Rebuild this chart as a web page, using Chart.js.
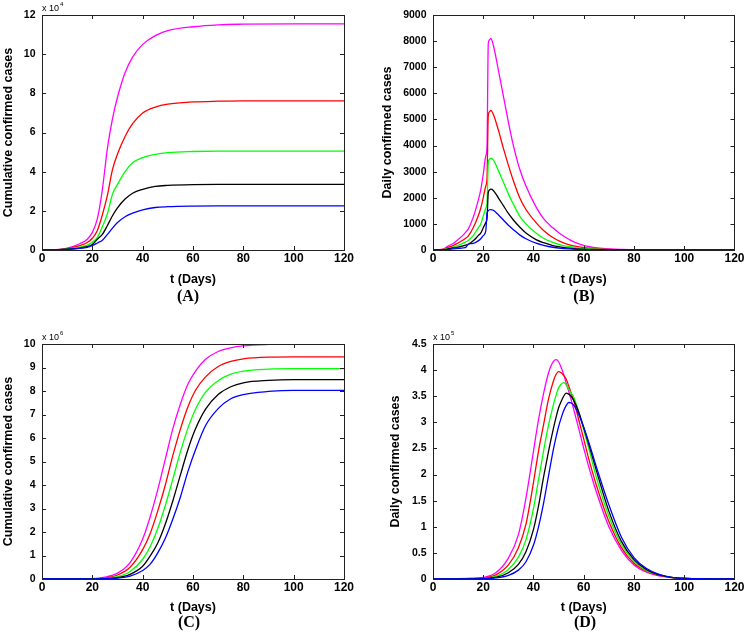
<!DOCTYPE html>
<html>
<head>
<meta charset="utf-8">
<script src="https://cdn.jsdelivr.net/npm/chart.js@4.4.0/dist/chart.umd.min.js"></script>
<style>
  body { margin: 0; background: #fff; }
  #wrap { position: relative; width: 746px; height: 638px; }
  .panel { position: absolute; }
</style>
</head>
<body>
<div id="wrap">
  <div class="panel" style="left:0;top:0"><canvas id="chartA" width="373" height="318"></canvas></div>
  <div class="panel" style="left:373px;top:0"><canvas id="chartB" width="373" height="318"></canvas></div>
  <div class="panel" style="left:0;top:318px"><canvas id="chartC" width="373" height="320"></canvas></div>
  <div class="panel" style="left:373px;top:318px"><canvas id="chartD" width="373" height="320"></canvas></div>
</div>
<script>
// ---- data ----
// (A) cumulative, x 10^4
const daysA = [0, 5, 10, 15, 18, 20, 22, 24, 26, 28, 30, 33, 36, 40, 45, 50, 60, 70, 80, 100, 120];
const cumA_magenta = [0, 0.02, 0.1, 0.32, 0.55, 0.9, 1.6, 3.1, 5.2, 6.7, 7.8, 9.05, 9.85, 10.5, 10.95, 11.2, 11.4, 11.5, 11.53, 11.55, 11.55];
const cumA_red     = [0, 0.01, 0.07, 0.22, 0.38, 0.6, 1.0, 1.8, 2.8, 4.1, 4.9, 5.8, 6.45, 7.0, 7.3, 7.45, 7.56, 7.6, 7.62, 7.62, 7.62];
const cumA_green   = [0, 0.01, 0.05, 0.15, 0.25, 0.4, 0.65, 1.2, 1.85, 2.85, 3.35, 4.0, 4.45, 4.72, 4.88, 4.97, 5.03, 5.05, 5.05, 5.05, 5.05];
const cumA_black   = [0, 0.005, 0.04, 0.1, 0.17, 0.28, 0.55, 0.8, 1.25, 1.75, 2.15, 2.6, 2.9, 3.1, 3.25, 3.3, 3.34, 3.35, 3.35, 3.35, 3.35];
const cumA_blue    = [0, 0.003, 0.03, 0.08, 0.14, 0.22, 0.36, 0.5, 0.8, 1.12, 1.4, 1.7, 1.88, 2.05, 2.17, 2.21, 2.24, 2.25, 2.25, 2.25, 2.25];

// (B) daily
const daysB = [0, 4, 6, 8, 10, 12, 13, 14, 16, 18, 19, 20, 21, 21.5, 22, 22.5, 23, 24, 26, 28, 30, 32, 34.5, 37, 41, 44, 47.7, 51, 54.3, 57, 61, 67.5, 75, 85, 95, 120];
const dayB_magenta = [0, 30, 150, 250, 400, 570, 680, 800, 1250, 1900, 2300, 2900, 3600, 3950, 7900, 8050, 8100, 7850, 6900, 5900, 4900, 4000, 3100, 2450, 1650, 1200, 850, 590, 400, 270, 150, 60, 20, 5, 0, 0];
const dayB_red     = [0, 20, 100, 170, 270, 380, 450, 530, 850, 1300, 1600, 2000, 2450, 2750, 5150, 5300, 5350, 5200, 4600, 3900, 3250, 2650, 2000, 1550, 1050, 750, 480, 310, 200, 140, 85, 35, 12, 3, 0, 0];
const dayB_green   = [0, 10, 60, 110, 180, 260, 310, 360, 550, 850, 1000, 1300, 1600, 1800, 3350, 3480, 3520, 3450, 3050, 2600, 2150, 1750, 1300, 1000, 650, 450, 290, 190, 125, 85, 50, 20, 6, 1, 0, 0];
const dayB_black   = [0, 5, 40, 80, 110, 160, 190, 220, 350, 550, 650, 850, 1050, 1200, 2200, 2300, 2330, 2280, 2000, 1700, 1400, 1150, 880, 650, 400, 280, 170, 110, 70, 45, 25, 10, 3, 0, 0, 0];
const dayB_blue    = [0, 0, 20, 40, 60, 80, 100, 220, 250, 350, 430, 550, 720, 1400, 1500, 1540, 1550, 1520, 1350, 1150, 950, 780, 580, 430, 260, 180, 105, 65, 40, 25, 14, 5, 1, 0, 0, 0];

// (C) cumulative, x 10^6
const daysC = [0, 20, 25, 30, 35, 40, 43, 46, 49, 52, 55, 58, 61, 65, 70, 75, 80, 90, 100, 120];
const cumC_magenta = [0, 0.02, 0.08, 0.25, 0.7, 1.7, 2.65, 3.8, 5.1, 6.4, 7.45, 8.3, 8.85, 9.35, 9.68, 9.84, 9.92, 9.98, 10.0, 10.0];
const cumC_red     = [0, 0.01, 0.05, 0.17, 0.5, 1.25, 1.94, 2.9, 4.0, 5.26, 6.38, 7.33, 8.03, 8.6, 9.04, 9.26, 9.37, 9.44, 9.45, 9.45];
const cumC_green   = [0, 0.01, 0.03, 0.1, 0.32, 0.84, 1.38, 2.15, 3.13, 4.25, 5.41, 6.42, 7.22, 7.95, 8.44, 8.72, 8.85, 8.93, 8.95, 8.95];
const cumC_black   = [0, 0.005, 0.02, 0.06, 0.2, 0.54, 0.98, 1.53, 2.34, 3.33, 4.43, 5.51, 6.39, 7.23, 7.85, 8.18, 8.35, 8.45, 8.48, 8.48];
const cumC_blue    = [0, 0.003, 0.01, 0.04, 0.12, 0.36, 0.63, 1.11, 1.73, 2.55, 3.49, 4.58, 5.5, 6.53, 7.25, 7.67, 7.85, 7.98, 8.03, 8.03];

// (D) daily, x 10^5
const daysD = [0, 15, 20, 25, 30, 34, 37, 40, 42, 44, 46, 48, 49, 50, 51, 52, 53, 54, 55, 56, 58, 60, 62, 65, 70, 75, 80, 85, 90, 100, 120];
const dayD_magenta = [0, 0.01, 0.03, 0.12, 0.4, 0.85, 1.55, 2.45, 3.05, 3.55, 3.95, 4.17, 4.2, 4.16, 4.05, 3.92, 3.75, 3.6, 3.43, 3.25, 2.88, 2.5, 2.15, 1.67, 1.0, 0.55, 0.27, 0.13, 0.06, 0.01, 0];
const dayD_red     = [0, 0.01, 0.02, 0.08, 0.27, 0.6, 1.05, 1.85, 2.45, 2.95, 3.45, 3.8, 3.92, 3.97, 3.95, 3.9, 3.83, 3.7, 3.56, 3.42, 3.05, 2.68, 2.3, 1.8, 1.1, 0.6, 0.3, 0.15, 0.07, 0.01, 0];
const dayD_green   = [0, 0.005, 0.015, 0.05, 0.18, 0.42, 0.75, 1.35, 1.9, 2.45, 2.95, 3.35, 3.52, 3.66, 3.73, 3.76, 3.72, 3.64, 3.56, 3.48, 3.2, 2.85, 2.5, 1.95, 1.2, 0.66, 0.34, 0.16, 0.08, 0.01, 0];
const dayD_black   = [0, 0.003, 0.01, 0.03, 0.12, 0.28, 0.52, 0.95, 1.4, 1.95, 2.45, 2.9, 3.1, 3.28, 3.4, 3.5, 3.56, 3.54, 3.5, 3.42, 3.2, 2.9, 2.58, 2.08, 1.3, 0.72, 0.37, 0.18, 0.08, 0.01, 0];
const dayD_blue    = [0, 0.002, 0.005, 0.02, 0.07, 0.17, 0.33, 0.65, 1.0, 1.45, 1.98, 2.5, 2.72, 2.92, 3.08, 3.22, 3.32, 3.38, 3.37, 3.33, 3.15, 2.9, 2.62, 2.15, 1.42, 0.8, 0.41, 0.2, 0.09, 0.01, 0];

const lineColors = ['#0000ff', '#000000', '#00ff00', '#ff0000', '#ff00ff']; // blue, black, green, red, magenta
const SANS = '"Liberation Sans", Arial, sans-serif';

// box round the plot with inward ticks on all four sides
const boxTicks = {
  id: 'boxTicks',
  afterDatasetsDraw(chart) {
    const {ctx, chartArea: a, scales: {x, y}} = chart;
    const len = 4;
    ctx.save();
    ctx.strokeStyle = '#222';
    ctx.lineWidth = 1;
    ctx.beginPath();
    y.ticks.forEach(t => {
      const py = Math.round(y.getPixelForValue(t.value)) + 0.5;
      ctx.moveTo(a.left, py); ctx.lineTo(a.left + len, py);
      ctx.moveTo(a.right, py); ctx.lineTo(a.right - len, py);
    });
    x.ticks.forEach(t => {
      const px = Math.round(x.getPixelForValue(t.value)) + 0.5;
      ctx.moveTo(px, a.bottom); ctx.lineTo(px, a.bottom - len);
      ctx.moveTo(px, a.top); ctx.lineTo(px, a.top + len);
    });
    ctx.stroke();
    ctx.strokeRect(Math.round(a.left) + 0.5, Math.round(a.top) + 0.5,
                   Math.round(a.right - a.left), Math.round(a.bottom - a.top));
    ctx.restore();
  }
};

// exponent note at top left and the panel letter underneath
const panelText = {
  id: 'panelText',
  afterDraw(chart, args, opts) {
    const {ctx, chartArea: a} = chart;
    ctx.save();
    ctx.fillStyle = '#000';
    if (opts.exp) {
      ctx.font = '9px ' + SANS;
      ctx.textAlign = 'left';
      ctx.textBaseline = 'alphabetic';
      ctx.fillText('x 10', a.left, a.top - 4);
      const w = ctx.measureText('x 10').width;
      ctx.font = '6px ' + SANS;
      ctx.fillText(opts.exp, a.left + w + 1, a.top - 9);
    }
    ctx.font = 'bold 16px "Liberation Serif", "Times New Roman", serif';
    ctx.textAlign = 'center';
    ctx.textBaseline = 'middle';
    ctx.fillText(opts.letter, opts.letterX, opts.letterY);
    ctx.restore();
  }
};

function makeChart(id, p) {
  return new Chart(document.getElementById(id), {
    type: 'line',
    data: {
      datasets: p.series.map((vals, i) => ({
        data: p.days.map((d, j) => ({x: d, y: vals[j]})),
        borderColor: lineColors[i],
        borderWidth: 1.3,
        pointRadius: 0,
        fill: false,
        cubicInterpolationMode: 'monotone'
      }))
    },
    options: {
      responsive: false,
      animation: false,
      layout: { padding: p.pad },
      plugins: {
        legend: { display: false },
        tooltip: { enabled: false },
        panelText: { letter: p.letter, letterX: p.letterX, letterY: p.letterY, exp: p.exp }
      },
      scales: {
        x: {
          type: 'linear', min: 0, max: 120,
          grid: { display: false, drawTicks: false },
          border: { display: false },
          ticks: { stepSize: 20, padding: 1.5, color: '#000', font: { family: SANS, size: 12, weight: 'bold' } },
          title: { display: true, text: 't (Days)', color: '#000',
                   font: { family: SANS, size: 12.5, weight: 'bold' }, padding: { top: 0, bottom: p.xTitlePad } },
          afterFit: s => { s.height = p.xHeight; }
        },
        y: {
          min: 0, max: p.yMax,
          grid: { display: false, drawTicks: false },
          border: { display: false },
          ticks: { stepSize: p.yStep, padding: 6.5, color: '#000',
                   font: { family: SANS, size: 10.5, weight: 'bold' },
                   callback: v => String(v) },
          title: { display: true, text: p.yTitle, color: '#000',
                   font: { family: SANS, size: 12.5, weight: 'bold' }, padding: { top: p.yTitlePad, bottom: 0 } },
          afterFit: s => { s.width = p.yWidth; }
        }
      }
    },
    plugins: [boxTicks, panelText]
  });
}

makeChart('chartA', {
  days: daysA,
  series: [cumA_blue, cumA_black, cumA_green, cumA_red, cumA_magenta],
  yMax: 12, yStep: 2, exp: '4', yTitle: 'Cumulative confirmed cases',
  pad: { top: 15, right: 29, left: 0, bottom: 0 },
  yWidth: 42, xHeight: 68, yTitlePad: 1, xTitlePad: 30.5,
  letter: '(A)', letterX: 188, letterY: 297
});

makeChart('chartB', {
  days: daysB,
  series: [dayB_blue, dayB_black, dayB_green, dayB_red, dayB_magenta],
  yMax: 9000, yStep: 1000, exp: null, yTitle: 'Daily confirmed cases',
  pad: { top: 15, right: 10, left: 0, bottom: 0 },
  yWidth: 60, xHeight: 68, yTitlePad: 7.5, xTitlePad: 30.5,
  letter: '(B)', letterX: 211, letterY: 297
});

makeChart('chartC', {
  days: daysC,
  series: [cumC_blue, cumC_black, cumC_green, cumC_red, cumC_magenta],
  yMax: 10, yStep: 1, exp: '6', yTitle: 'Cumulative confirmed cases',
  pad: { top: 26, right: 29, left: 0, bottom: 0 },
  yWidth: 42, xHeight: 59, yTitlePad: 1, xTitlePad: 22.5,
  letter: '(C)', letterX: 189, letterY: 305
});

makeChart('chartD', {
  days: daysD,
  series: [dayD_blue, dayD_black, dayD_green, dayD_red, dayD_magenta],
  yMax: 4.5, yStep: 0.5, exp: '5', yTitle: 'Daily confirmed cases',
  pad: { top: 26, right: 10, left: 0, bottom: 0 },
  yWidth: 60, xHeight: 59, yTitlePad: 15.5, xTitlePad: 22.5,
  letter: '(D)', letterX: 212, letterY: 305
});
</script>
</body>
</html>
